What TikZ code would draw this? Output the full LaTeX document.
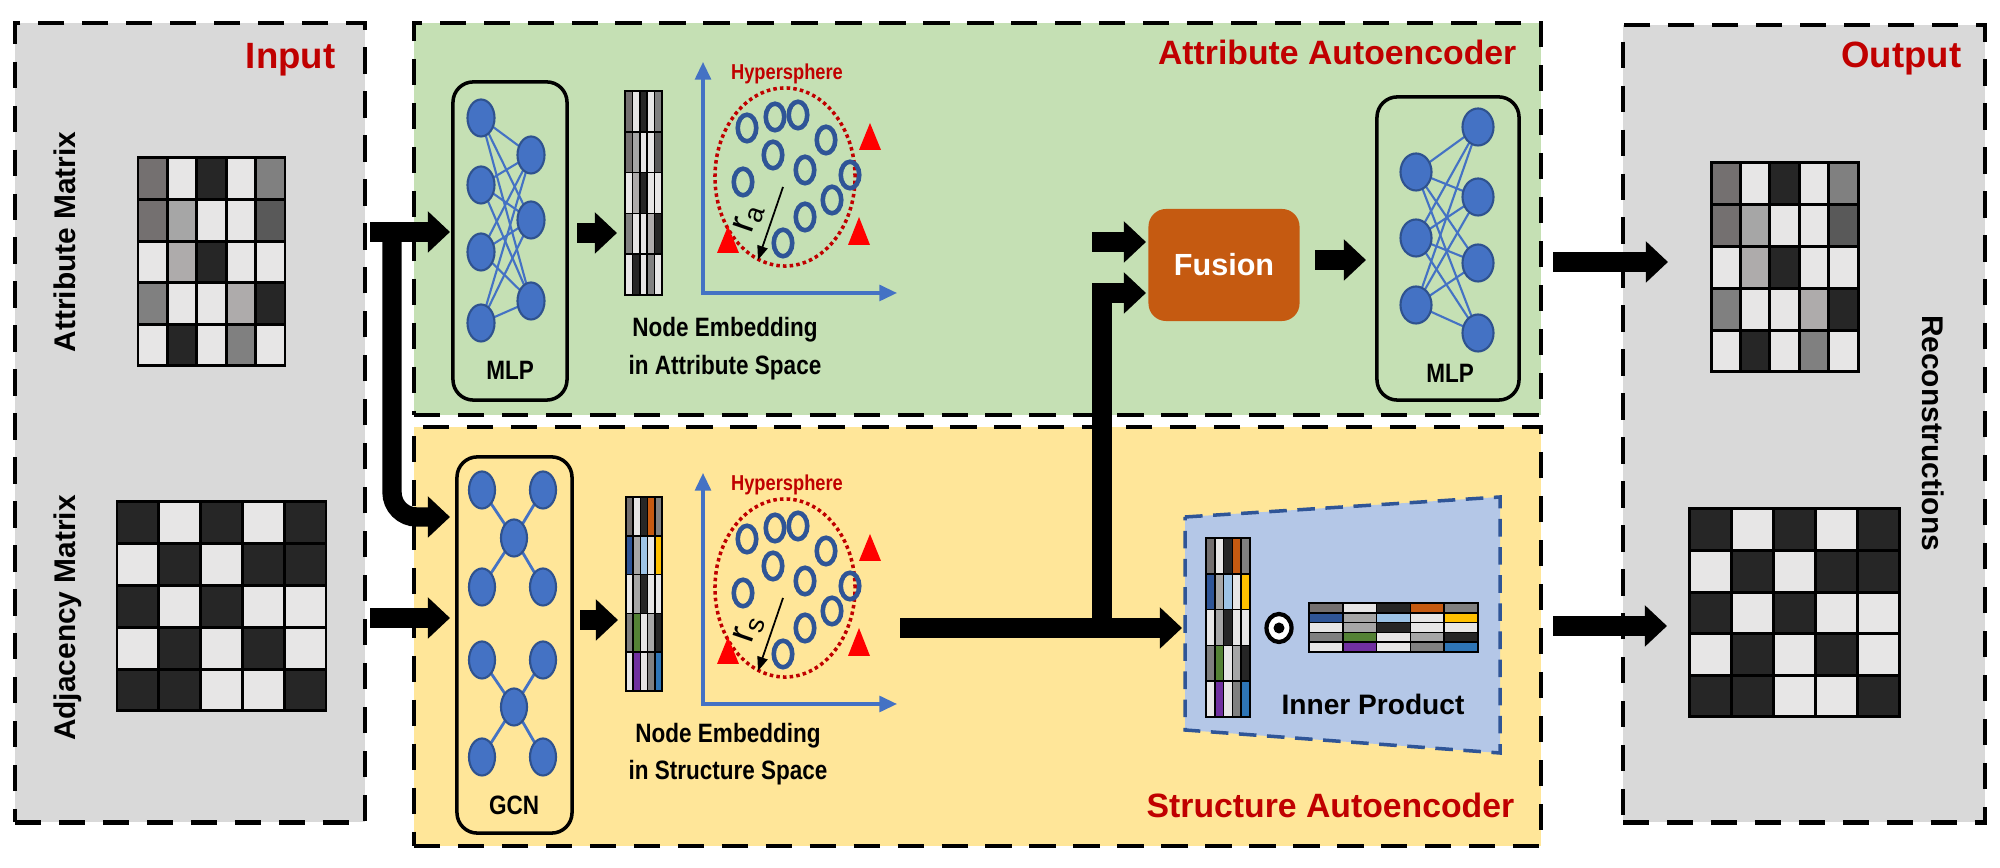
\documentclass[tikz,border=0pt]{standalone}
\usepackage{fontspec}
\setmainfont{Liberation Sans}
\usepackage{graphicx}
\usetikzlibrary{arrows.meta,shapes.geometric}
\definecolor{cA}{HTML}{E7E6E6}
\definecolor{cD}{HTML}{262626}
\definecolor{cG}{HTML}{808080}
\definecolor{cM}{HTML}{747070}
\definecolor{cS}{HTML}{A6A6A6}
\definecolor{cT}{HTML}{AEABAB}
\definecolor{cN}{HTML}{595959}
\definecolor{cOr}{HTML}{C55A11}
\definecolor{cBl}{HTML}{2F5597}
\definecolor{cLb}{HTML}{9DC3E6}
\definecolor{cYe}{HTML}{FFC000}
\definecolor{cGr}{HTML}{548235}
\definecolor{cPu}{HTML}{7030A0}
\definecolor{cBb}{HTML}{2E75B6}
\definecolor{panelgray}{HTML}{D9D9D9}
\definecolor{panelgreen}{HTML}{C5E0B4}
\definecolor{panelyellow}{HTML}{FFE699}
\definecolor{titlered}{HTML}{C00000}
\definecolor{nodeblue}{HTML}{4472C4}
\definecolor{nodeedge}{HTML}{2F528F}
\definecolor{ipblue}{HTML}{B4C7E7}
\definecolor{ipedge}{HTML}{2F5597}
\definecolor{trired}{HTML}{FF0000}
\pgfdeclarelayer{back}
\pgfdeclarelayer{mid}
\pgfsetlayers{back,mid,main}
\newcommand{\vst}[1]{\scalebox{1}[1.18]{#1}}
\def\attrdata{{cM,cA,cD,cA,cG},{cM,cS,cA,cA,cN},{cA,cT,cD,cA,cA},{cG,cA,cA,cT,cD},{cA,cD,cA,cG,cA}}
\def\adjdata{{cD,cA,cD,cA,cD},{cA,cD,cA,cD,cD},{cD,cA,cD,cA,cA},{cA,cD,cA,cD,cA},{cD,cD,cA,cA,cD}}
\def\strdata{{cM,cA,cD,cOr,cG},{cBl,cS,cLb,cA,cYe},{cA,cS,cD,cA,cA},{cG,cGr,cA,cS,cD},{cA,cPu,cA,cG,cBb}}
\newcommand{\drawgrid}[6]{%
  \foreach \rr [count=\ii from 0] in #6 {%
    \foreach \cc [count=\jj from 0] in \rr {%
      \filldraw[fill=\cc, draw=black, line width=#5] (#1+\jj*#3, #2+\ii*#4) rectangle ++(#3,#4);
    }%
  }%
  \draw[black, line width=#5] (#1,#2) rectangle ++(5*#3,5*#4);%
}
\newcommand{\hsphere}[3]{%
\begin{scope}[shift={(0,#1)}]
  \coordinate (ax#2o) at (703,293);
  \coordinate (ax#2y) at (703,62);
  \coordinate (ax#2x) at (897,293);
  \draw[axisline] (ax#2y) -- (ax#2o) -- (ax#2x);
  \node[hsph] (hs#2) at (785,177) {};
  \foreach \p [count=\k] in {(747,128),(775,117),(798,115),(826,140),(773,155),(805,170),(743,182),(850,175),(832,200),(805,217),(783,243)}
    \node[ring] (ring#2\k) at \p {};
  \fill[trired] (870,123) -- (859,150) -- (881,150) -- cycle;
  \fill[trired] (859,217) -- (848,245) -- (870,245) -- cycle;
  \fill[trired] (728,226) -- (717,253) -- (739,253) -- cycle;
  \coordinate (rc#2) at (783,187);
  \coordinate (re#2) at (758,260);
  \draw[rarrow] (rc#2) -- (re#2);
  \node[font=\fontsize{11}{12}\selectfont, rotate=71, inner sep=0pt] (rl#2) at (749,218) {r\textsubscript{#3}};
  \node[font=\fontsize{5.2}{6}\selectfont\bfseries, text=titlered, anchor=base, inner sep=0pt] (hst#2) at (787,80) {\vst{Hypersphere}};
\end{scope}}

\begin{document}
\begin{tikzpicture}[x=0.01cm,y=-0.01cm,
  panelbox/.style={draw=black, line width=1.2pt, dash pattern=on 7.5pt off 5pt, inner sep=0pt, outer sep=0pt, anchor=north west},
  title/.style={font=\fontsize{10.4}{12}\selectfont\bfseries, text=titlered, anchor=base east, inner sep=0pt},
  subtitle/.style={font=\fontsize{9.6}{11}\selectfont\bfseries, text=titlered, anchor=base east, inner sep=0pt},
  sidelabel/.style={font=\fontsize{8.5}{10}\selectfont\bfseries, anchor=base, inner sep=0pt},
  smalltext/.style={font=\fontsize{6.4}{8}\selectfont\bfseries, anchor=base, inner sep=0pt},
  netbox/.style={draw=black, line width=1pt, rounded corners=5.8pt, inner sep=0pt},
  nn/.style={ellipse, fill=nodeblue, draw=nodeedge, line width=0.6pt, inner sep=0pt},
  nnedge/.style={draw=nodeblue, line width=0.6pt},
  gcnedge/.style={draw=nodeblue, line width=0.8pt},
  ring/.style={ellipse, draw=cBl, line width=1.3pt, minimum width=0.185cm, minimum height=0.265cm, inner sep=0pt},
  hsph/.style={ellipse, draw=titlered, line width=1pt, dash pattern=on 1pt off 0.9pt, minimum width=1.40cm, minimum height=1.78cm, inner sep=0pt},
  axisline/.style={draw=nodeblue, line width=0.9pt, {Triangle[length=5pt,width=4.5pt]}-{Triangle[length=5pt,width=4.5pt]}},
  rarrow/.style={draw=black, line width=0.5pt, -{Triangle[length=4pt,width=3pt]}},
  bigarrow/.style={draw=black, line width=5.5pt, -{Triangle[length=6.3pt,width=11.4pt]}},
]
\useasboundingbox (0,0) rectangle (2000,868);

% ---------- panels ----------
\begin{pgfonlayer}{back}
  \node[panelbox, fill=panelgray, minimum width=3.50cm, minimum height=7.99cm] (inpanel) at (15,23) {};
  \node[panelbox, fill=panelgreen, minimum width=11.26cm, minimum height=3.92cm] (attrpanel) at (414,23) {};
  \node[panelbox, fill=panelyellow, minimum width=11.26cm, minimum height=4.19cm] (strpanel) at (414,427) {};
  \node[panelbox, fill=panelgray, minimum width=3.62cm, minimum height=7.97cm] (outpanel) at (1623,25) {};
\end{pgfonlayer}

% ---------- titles ----------
\node[title] (intitle) at (336,69) {Input};
\node[title] (outtitle) at (1962,68) {Output};
\node[subtitle] (attrtitle) at (1517,65) {Attribute Autoencoder};
\node[subtitle] (strtitle) at (1515,818) {Structure Autoencoder};
\node[sidelabel, rotate=90] (attrlabel) at (75,242) {Attribute Matrix};
\node[sidelabel, rotate=90] (adjlabel) at (75,618) {Adjacency Matrix};
\node[sidelabel, rotate=-90] (reclabel) at (1922,433) {Reconstructions};

% ---------- matrices ----------
\drawgrid{138}{158}{29.4}{41.6}{0.85pt}{\attrdata}
\drawgrid{117}{502}{41.8}{41.8}{0.85pt}{\adjdata}
\drawgrid{1711}{163}{29.4}{41.8}{0.85pt}{\attrdata}
\drawgrid{1689}{509}{42}{41.6}{0.85pt}{\adjdata}

% ---------- MLP encoder ----------
\node[netbox, minimum width=1.14cm, minimum height=3.18cm] (mlpA) at (510,241) {};
\foreach \y [count=\k] in {118,185,252,323}
  \node[nn, minimum width=0.27cm, minimum height=0.37cm] (mA\k) at (481,\y) {};
\foreach \y [count=\k] in {155,220,301}
  \node[nn, minimum width=0.27cm, minimum height=0.37cm] (mB\k) at (531,\y) {};
\begin{pgfonlayer}{mid}
  \foreach \a in {1,...,4} \foreach \b in {1,2,3} \draw[nnedge] (mA\a.center) -- (mB\b.center);
\end{pgfonlayer}
\node[smalltext] (mlpAl) at (510,380) {\vst{MLP}};

% ---------- GCN encoder ----------
\node[netbox, minimum width=1.15cm, minimum height=3.76cm] (gcn) at (514.5,645) {};
\foreach \p [count=\k] in {(482,490),(543,490),(514,538),(482,587),(543,587),(482,660),(543,660),(514,707),(482,757),(543,757)}
  \node[nn, minimum width=0.26cm, minimum height=0.37cm] (g\k) at \p {};
\begin{pgfonlayer}{mid}
  \foreach \a in {1,2,4,5} \draw[gcnedge] (g3.center) -- (g\a.center);
  \foreach \a in {6,7,9,10} \draw[gcnedge] (g8.center) -- (g\a.center);
\end{pgfonlayer}
\node[smalltext] (gcnl) at (514,815) {\vst{GCN}};

% ---------- embeddings ----------
\drawgrid{625}{91}{7.4}{40.8}{0.5pt}{\attrdata}
\drawgrid{626}{497}{7.2}{38.8}{0.5pt}{\strdata}
\node[smalltext] (neA1) at (725,337) {\vst{Node Embedding}};
\node[smalltext] (neA2) at (725,375) {\vst{in Attribute Space}};
\node[smalltext] (neS1) at (728,743) {\vst{Node Embedding}};
\node[smalltext] (neS2) at (728,780) {\vst{in Structure Space}};

% ---------- hyperspheres ----------
\hsphere{0}{A}{a}
\hsphere{411}{S}{s}

% ---------- fusion and decoder MLP ----------
\node[fill=cOr, rounded corners=5pt, minimum width=1.51cm, minimum height=1.12cm, inner sep=0pt, text=white, font=\fontsize{8.7}{10}\selectfont\bfseries] (fusion) at (1224,265) {Fusion};
\node[netbox, minimum width=1.42cm, minimum height=3.03cm] (mlpB) at (1448,248.5) {};
\foreach \y [count=\k] in {172,238,305}
  \node[nn, minimum width=0.31cm, minimum height=0.37cm] (mC\k) at (1416,\y) {};
\foreach \y [count=\k] in {127,197,263,333}
  \node[nn, minimum width=0.31cm, minimum height=0.37cm] (mD\k) at (1478,\y) {};
\begin{pgfonlayer}{mid}
  \foreach \a in {1,2,3} \foreach \b in {1,...,4} \draw[nnedge] (mC\a.center) -- (mD\b.center);
\end{pgfonlayer}
\node[smalltext] (mlpBl) at (1450,383) {\vst{MLP}};

% ---------- inner product ----------
\filldraw[fill=ipblue, draw=ipedge, line width=1pt, dash pattern=on 5pt off 3pt] (1185,517) -- (1500,497) -- (1500,753) -- (1185,730) -- cycle;
\drawgrid{1206}{538}{8.8}{35.8}{0.5pt}{\strdata}
\node[ellipse, draw=black, fill=white, line width=1.2pt, minimum width=0.25cm, minimum height=0.28cm, inner sep=0pt] (odot) at (1279,628) {};
\node[circle, fill=black, minimum size=0.11cm, inner sep=0pt] (odotc) at (1279,628) {};
\drawgrid{1309}{603}{33.8}{9.8}{0.5pt}{\strdata}
\node[font=\fontsize{8}{10}\selectfont\bfseries, anchor=base, inner sep=0pt] (iplabel) at (1373,715) {Inner Product};

% ---------- connectors ----------
\coordinate (s1) at (370,232);  \coordinate (e1) at (450,232);
\coordinate (b1) at (392,232);  \coordinate (e2) at (450,517);
\coordinate (s3) at (370,618);  \coordinate (e3) at (450,618);
\coordinate (s4) at (577,233);  \coordinate (e4) at (617,233);
\coordinate (s5) at (580,620);  \coordinate (e5) at (618,620);
\coordinate (s6) at (1092,242); \coordinate (e6) at (1146,242);
\coordinate (s7) at (900,628);  \coordinate (e7) at (1182,628);
\coordinate (b7) at (1102,628); \coordinate (e8) at (1146,293);
\coordinate (s9) at (1315,260); \coordinate (e9) at (1366,260);
\coordinate (s10) at (1553,262); \coordinate (e10) at (1668,262);
\coordinate (s11) at (1553,626); \coordinate (e11) at (1667,626);
\draw[bigarrow] (s1) -- (e1);
\draw[bigarrow, rounded corners=7pt] (b1) |- (e2);
\draw[bigarrow] (s3) -- (e3);
\draw[bigarrow] (s4) -- (e4);
\draw[bigarrow] (s5) -- (e5);
\draw[bigarrow] (s6) -- (e6);
\draw[bigarrow] (s7) -- (e7);
\draw[bigarrow] (b7) |- (e8);
\draw[bigarrow] (s9) -- (e9);
\draw[bigarrow] (s10) -- (e10);
\draw[bigarrow] (s11) -- (e11);
\end{tikzpicture}
\end{document}
